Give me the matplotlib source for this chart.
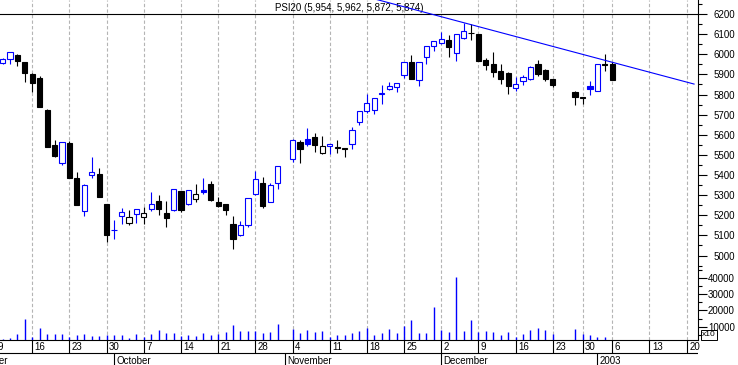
import numpy as np
import pandas as pd
import matplotlib
matplotlib.use("Agg")
import matplotlib.pyplot as plt
from matplotlib.patches import Rectangle

plt.rcParams['font.family'] = ['Liberation Sans', 'DejaVu Sans']
plt.rcParams['font.size'] = 7

# trading calendar (25 Dec and 1 Jan are not on the axis)
days = pd.bdate_range('2002-09-02', '2003-01-31')
days = days.drop(pd.to_datetime(['2002-12-25', '2003-01-01']))
first_day = '2002-09-10'

# PSI20 daily OHLC from 10 Sep 2002, None = no session
opens = [5958, 5976, 5996, 5961, 5902, 5882, 5723, 5548, 5461, 5558,
         5385, 5220, 5402, 5404, 5256, 5125, 5198, 5163, 5205, 5190,
         5233, 5271, 5210, 5225, 5321, 5255, 5279, 5324, 5355, 5266,
         5255, 5157, 5101, 5153, 5304, 5360, 5266, 5359, None, 5478,
         5564, 5577, 5587, 5508, 5543, 5533, 5533, 5553, 5662, 5720,
         5725, 5803, 5826, 5836, 5895, 5960, 5871, 5985, 6041, 6054,
         6071, 6008, 6079, 6105, 6101, 5971, 5952, 5917, 5905, 5832,
         5869, 5879, 5952, 5922, 5877, None, None, 5812, 5789, 5842,
         5819, 5950, 5954]
highs = [5981, 6012, 6001, 5962, 5908, 5892, 5728, 5574, 5565, 5569,
         5415, 5354, 5490, 5435, 5258, 5177, 5236, 5226, 5232, 5240,
         5316, 5299, 5271, 5331, 5323, 5326, 5355, 5384, 5370, 5289,
         5256, 5196, 5172, 5286, 5420, 5392, 5359, 5447, None, 5577,
         5572, 5632, 5609, 5592, 5555, 5572, 5534, 5639, 5719, 5801,
         5783, 5846, 5861, 5858, 5962, 5996, 5962, 6043, 6066, 6112,
         6096, 6101, 6157, 6149, 6103, 5980, 6010, 5950, 5913, 5885,
         5899, 5940, 5970, 5927, 5879, None, None, 5816, 5790, 5867,
         5954, 6001, 5962]
lows = [5950, 5953, 5943, 5862, 5812, 5737, 5539, 5488, 5450, 5385,
        5251, 5198, 5387, 5290, 5069, 5082, 5155, 5150, 5163, 5158,
        5223, 5203, 5140, 5223, 5215, 5253, 5267, 5306, 5270, 5243,
        5203, 5034, 5099, 5143, 5302, 5238, 5264, 5331, None, 5466,
        5461, 5546, 5516, 5506, 5503, 5511, 5491, 5531, 5650, 5708,
        5705, 5753, 5824, 5811, 5881, 5877, 5841, 5950, 6018, 6049,
        5988, 5968, 6077, 6071, 5966, 5920, 5888, 5854, 5804, 5819,
        5849, 5874, 5893, 5869, 5839, None, None, 5749, 5751, 5799,
        5816, 5918, 5872]
closes = [5975, 6010, 5968, 5908, 5859, 5739, 5541, 5496, 5563, 5387,
          5253, 5349, 5413, 5292, 5104, 5128, 5216, 5191, 5230, 5210,
          5258, 5230, 5188, 5329, 5225, 5324, 5304, 5317, 5277, 5248,
          5228, 5081, 5150, 5284, 5382, 5246, 5349, 5445, None, 5575,
          5531, 5553, 5549, 5545, 5553, 5540, 5528, 5622, 5717, 5756,
          5781, 5808, 5841, 5856, 5960, 5879, 5960, 6041, 6064, 6074,
          6038, 6099, 6114, 6104, 5968, 5945, 5913, 5879, 5841, 5851,
          5885, 5938, 5902, 5879, 5849, None, None, 5789, 5784, 5829,
          5952, 5949, 5874]
volumes = [2450, 2860, 5510, 14490, 3470, 8980, 5510, 5510, 5510, 3470,
           4900, 5310, 4290, 4290, 4690, 4900, 4900, 3060, 5310, 3470,
           5310, 7960, 6120, 6120, 4290, 4900, 4290, 6120, 4900, 5510,
           6730, 11020, 7350, 7350, 7350, 6120, 6730, 11630, None, 8570,
           6120, 7960, 6730, 7350, 3470, 4900, 4900, 6120, 7350, 9180,
           4900, 6120, 8570, 6120, 10410, 14080, 6120, 6120, 22040, 7960,
           6730, 40610, 7350, 14080, 6730, 7350, 6730, 4900, 6730, 3670,
           5510, 7960, 9180, 7960, 5510, None, None, 8570, 5510, 4900,
           3670, 3670, None]

# trend line drawn on the chart
trend_days = ['2002-11-18', '2003-01-21']
trend_values = [6285, 5852]

month_labels = ['September', 'October', 'November', 'December', '2003']

o = np.array(opens, dtype=float)
h = np.array(highs, dtype=float)
l = np.array(lows, dtype=float)
c = np.array(closes, dtype=float)
v = np.array(volumes, dtype=float)
start = days.get_loc(pd.Timestamp(first_day))
xs = np.arange(start, start + len(o))

xlim = (5.66, 99.53)
fig = plt.figure(figsize=(7.38, 3.65), dpi=100)
ax = fig.add_axes([0, 25 / 365, 698 / 738, 340 / 365])
ax2 = ax.twinx()   # volume, same box
ax.set_xlim(xlim)
ax.set_ylim(4580.4, 6269.6)

# weekly grid
mondays = [i for i, d in enumerate(days)
           if d.weekday() == 0 and xlim[0] - 1 < i < xlim[1]]
for m in mondays:
    ax.axvline(m, color='#b4b4b4', lw=0.8, ls=(0, (3, 2)), zorder=1)

ax.axhline(6200, color='black', lw=0.8, zorder=2)

# candles
w = 0.7
prev = None
for x, oo, hh, ll, cc in zip(xs, o, h, l, c):
    if np.isnan(oo):
        continue
    up = cc > prev if prev is not None else cc >= oo
    col = 'blue' if up else 'black'
    ax.vlines(x, ll, hh, color=col, lw=0.8, zorder=3)
    hollow = cc >= oo
    ax.add_patch(Rectangle((x - w / 2, min(oo, cc)), w, max(abs(cc - oo), 1),
                           facecolor='white' if hollow else col, edgecolor=col,
                           lw=0.8, zorder=4))
    prev = cc

tx = [days.get_loc(pd.Timestamp(d)) for d in trend_days]
ax.plot(tx, trend_values, color='blue', lw=0.8, zorder=5)

title = 'PSI20 ({:,.0f}, {:,.0f}, {:,.0f}, {:,.0f})'.format(o[-1], h[-1], l[-1], c[-1])
ax.text(275 / 698, 1 - 8 / 340, title, transform=ax.transAxes, va='center', ha='left')

for s in ['left', 'top']:
    ax.spines[s].set_visible(False)
ax.spines['right'].set_linewidth(0.8)
ax.spines['bottom'].set_linewidth(0.8)
ax.set_xticks([])
ax.yaxis.tick_right()
ptk = list(range(5000, 6201, 100))
ax.set_yticks(ptk)
ax.set_yticklabels([str(t) for t in ptk])
ax.set_yticks(np.arange(4950, 6251, 100), minor=True)
ax.tick_params(axis='y', which='major', length=6.5, width=0.8, pad=20,
               left=False, labelleft=False, right=True, labelright=True)
ax.tick_params(axis='y', which='minor', length=3, width=0.8, left=False, right=True)
plt.setp([t.label2 for t in ax.yaxis.get_major_ticks()], ha='right')

# volume
ax2.set_ylim(1856, 210061)
ok = ~np.isnan(v)
ax2.vlines(xs[ok], 0, v[ok], color='blue', lw=1.0)
for s in ax2.spines.values():
    s.set_visible(False)
vtk = [10000, 20000, 30000, 40000]
ax2.set_yticks(vtk)
ax2.set_yticklabels([str(t) for t in vtk])
ax2.set_yticks([5000, 15000, 25000, 35000, 45000], minor=True)
ax2.tick_params(axis='y', which='major', length=6.5, width=0.8, pad=20)
ax2.tick_params(axis='y', which='minor', length=3, width=0.8)
plt.setp([t.label2 for t in ax2.yaxis.get_major_ticks()], ha='right')
ax2.set_xlim(xlim)

fig.text(702 / 738, 1 - 335 / 365, 'x10', fontsize=6, va='center', ha='left',
         bbox=dict(boxstyle='square,pad=0.15', fc='white', ec='black', lw=0.7))

# date band
axd = fig.add_axes([0, 0, 698 / 738, 25 / 365])
axd.set_xlim(xlim)
axd.set_ylim(0, 25)
axd.axis('off')
axd.axhline(12.3, color='black', lw=0.8)
axd.vlines(mondays, 12.3, 25, color='black', lw=0.8)
for m in mondays:
    axd.text(m + 0.33, 18.3, str(days[m].day), ha='left', va='center', clip_on=False)
month_starts = []
for i, d in enumerate(days):
    if i == 0 or d.month != days[i - 1].month:
        month_starts.append(i)
for i, lab in zip(month_starts, month_labels):
    axd.vlines(i, 0, 12.3, color='black', lw=0.8)
    axd.text(i + 0.33, 4.5, lab, ha='left', va='center', clip_on=False)

fig.savefig('out.png', dpi=100)
